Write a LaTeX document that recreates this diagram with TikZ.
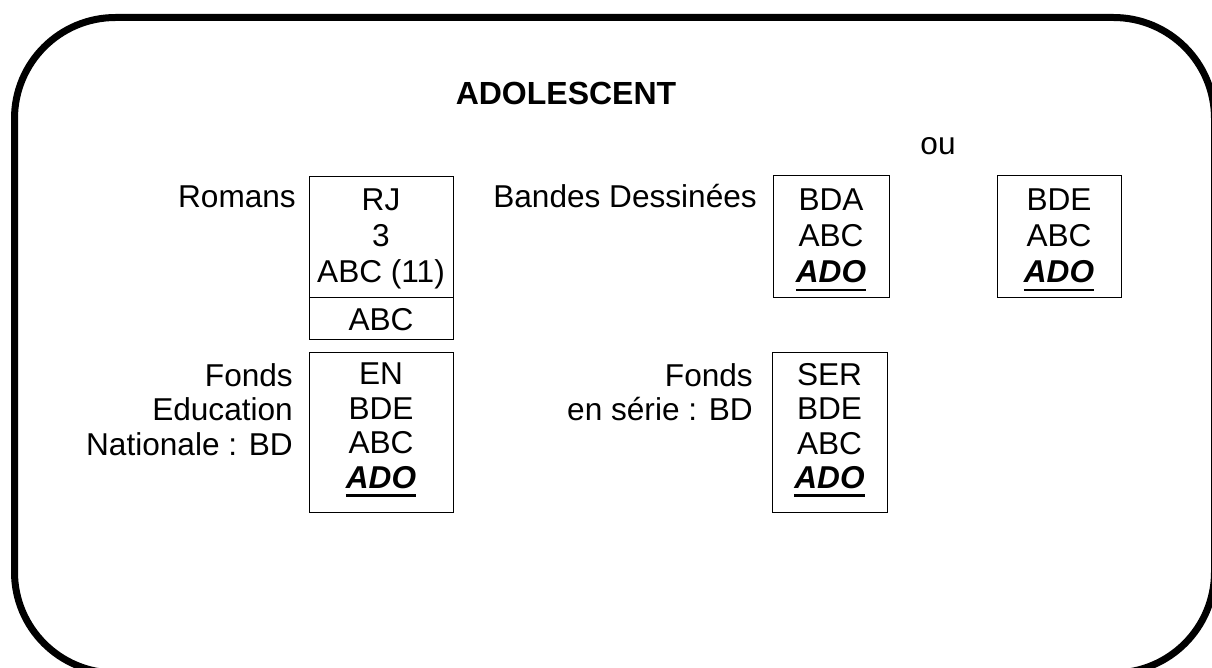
\documentclass[tikz,border=0pt]{standalone}
\usepackage{fontspec}
\setmainfont{Liberation Sans}
\newcommand{\adoul}[1]{\setbox0\hbox{#1}\rlap{\rule[-8.5pt]{\wd0}{2.8pt}}\box0}
\begin{document}
\begin{tikzpicture}[x=1pt,y=-1pt,
  txt/.style={inner sep=0pt,font=\fontsize{31.6}{36}\selectfont,align=center},
  txtb/.style={inner sep=0pt,font=\fontsize{31.6}{34.5}\selectfont,align=center},
  lbl/.style={inner sep=0pt,font=\fontsize{31.6}{34.5}\selectfont,align=right},
  cell/.style={draw,line width=1pt,inner sep=0pt},
  frame/.style={line width=7pt,rounded corners=101pt}]
\useasboundingbox (0,0) rectangle (1212,668);
\clip (0,0) rectangle (1212,668);
\draw[frame] (14.5,17.5) rectangle (1214.5,673);
% title
\node[inner sep=0pt,font=\fontsize{32}{36}\selectfont\bfseries,anchor=base] (title) at (566,104.5) {ADOLESCENT};
\node[txt,anchor=base] (ou) at (938,155) {ou};
% boxes
\node[cell,minimum width=144pt,minimum height=120pt] (r1) at (381,237) {};
\node[cell,minimum width=144pt,minimum height=42pt] (r1b) at (381,318) {};
\node[cell,minimum width=116pt,minimum height=121pt] (bda) at (831,236.5) {};
\node[cell,minimum width=124pt,minimum height=121pt] (bde) at (1059,236.5) {};
\node[cell,minimum width=144pt,minimum height=160pt] (en) at (381,432) {};
\node[cell,minimum width=115pt,minimum height=160pt] (ser) at (829.5,432) {};
% box texts
\node[txt,anchor=north] (t1) at (381,189) {RJ\\3\\ABC (11)};
\node[txt,anchor=base] (t1b) at (381,330) {ABC};
\node[txt,anchor=north] (tbda) at (831,189) {BDA\\ABC\\\adoul{\bfseries\itshape ADO}};
\node[txt,anchor=north] (tbde) at (1059,189) {BDE\\ABC\\\adoul{\bfseries\itshape ADO}};
\node[txtb,anchor=north] (ten) at (381,363) {EN\\BDE\\ABC\\\adoul{\bfseries\itshape ADO}};
\node[txtb,anchor=north] (tser) at (829.5,363) {SER\\BDE\\ABC\\\adoul{\bfseries\itshape ADO}};
% labels
\node[txt,anchor=base east] (romans) at (296,207.5) {Romans};
\node[txt,anchor=base east] (bd) at (757,207.5) {Bandes Dessinées};
\node[lbl,anchor=north east] (fen) at (293,363) {Fonds\\Education\\Nationale : BD};
\node[lbl,anchor=north east] (fser) at (753,363) {Fonds\\en série : BD};
\end{tikzpicture}
\end{document}
